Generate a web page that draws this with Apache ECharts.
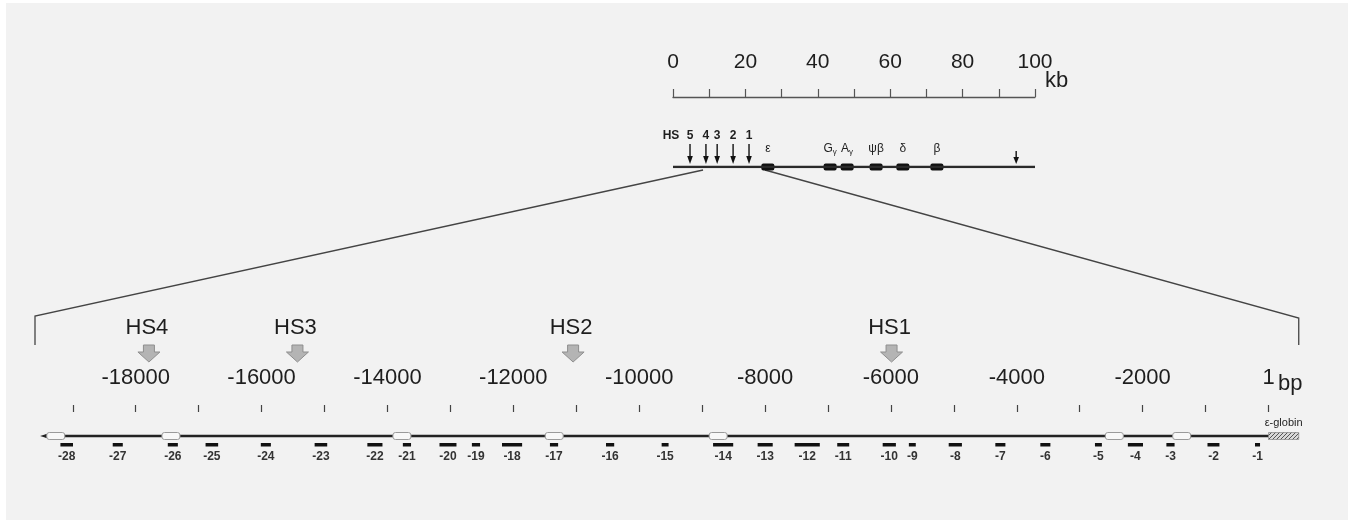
<!DOCTYPE html>
<html>
<head>
<meta charset="utf-8">
<script src="https://cdn.jsdelivr.net/npm/echarts@6/dist/echarts.min.js"></script>
<style>
  html, body { margin: 0; padding: 0; background: #fff; }
  #bg { position: absolute; left: 6px; top: 3px; width: 1342px; height: 517px; background: #f2f2f2; }
  #chart { position: absolute; left: 0; top: 0; width: 1348px; height: 520px; }
</style>
</head>
<body>
<div id="bg"></div>
<div id="chart"></div>
<script>
// whole locus, kb
const kbTicks = [0, 10, 20, 30, 40, 50, 60, 70, 80, 90, 100];
const kbLabels = [0, 20, 40, 60, 80, 100];
const hsNames = ['5', '4', '3', '2', '1'];
const hsKb = [4.7, 9.1, 12.2, 16.6, 21.0];
const hs3Kb = [94.8];
const geneNames = ['ε', 'Gγ', 'Aγ', 'ψβ', 'δ', 'β'];
const geneKb = [26.2, 43.4, 48.1, 56.1, 63.5, 72.9];
const zoomKb = [8.3, 25.4];

// blown-up LCR region, bp
const bpTicks = [-19000, -18000, -17000, -16000, -15000, -14000, -13000, -12000, -11000, -10000,
  -9000, -8000, -7000, -6000, -5000, -4000, -3000, -2000, -1000, 1];
const bpLabels = [-18000, -16000, -14000, -12000, -10000, -8000, -6000, -4000, -2000, 1];
const hsSiteNames = ['HS4', 'HS3', 'HS2', 'HS1'];
const hsSiteBp = [-17790, -15430, -11050, -5990];
const fragNames = ['-28', '-27', '-26', '-25', '-24', '-23', '-22', '-21', '-20', '-19', '-18', '-17', '-16', '-15',
  '-14', '-13', '-12', '-11', '-10', '-9', '-8', '-7', '-6', '-5', '-4', '-3', '-2', '-1'];
const fragBp = [-19096, -18285, -17410, -16790, -15932, -15057, -14199, -13690, -13038, -12593, -12020, -11353, -10462, -9588,
  -8666, -7998, -7330, -6758, -6026, -5660, -4977, -4261, -3546, -2703, -2115, -1558, -875, -175];
const fragLen = [200, 160, 160, 200, 160, 200, 240, 130, 270, 130, 320, 130, 130, 110,
  320, 240, 400, 190, 210, 110, 210, 160, 160, 110, 240, 130, 190, 80];
const openBoxBp = [-19270, -17440, -13770, -11350, -8745, -2450, -1380];
const dnaBp = [-19520, 0];
const epsilonBp = [0, 480];
const zoomBp = [-19600, 480];

const FONT = 'Liberation Sans, Arial, sans-serif';
const INK = '#1e1e1e';

const hatch = document.createElement('canvas');
hatch.width = 4; hatch.height = 4;
const hg = hatch.getContext('2d');
hg.fillStyle = '#d8d8d8'; hg.fillRect(0, 0, 4, 4);
hg.strokeStyle = '#555'; hg.lineWidth = 1;
hg.beginPath(); hg.moveTo(0, 4); hg.lineTo(4, 0); hg.stroke();

const chart = echarts.init(document.getElementById('chart'));

const option = {
  animation: false,
  backgroundColor: 'transparent',
  grid: [
    { left: 673, width: 362, top: 97, height: 70 },
    { left: 35, width: 1265, top: 412, height: 24 }
  ],
  xAxis: [
    {
      gridIndex: 0, type: 'value', min: 0, max: 100, position: 'top',
      axisLine: { onZero: false, lineStyle: { color: '#555', width: 1.3 } },
      axisTick: { customValues: kbTicks, length: 8, lineStyle: { color: '#555', width: 1.2 } },
      axisLabel: { customValues: kbLabels, fontSize: 21, margin: 24, color: INK, fontFamily: FONT },
      splitLine: { show: false },
      name: 'kb', nameLocation: 'end', nameGap: 10, nameMoveOverlap: false,
      nameTextStyle: { fontSize: 22, color: INK, fontFamily: FONT, verticalAlign: 'bottom', padding: [0, 0, 5, 0] }
    },
    {
      gridIndex: 1, type: 'value', min: zoomBp[0], max: 500, position: 'top',
      axisLine: { show: false, onZero: false },
      axisTick: { show: true, customValues: bpTicks, length: 7, lineStyle: { color: '#444', width: 1.2 } },
      axisLabel: { customValues: bpLabels, fontSize: 22, margin: 23, color: INK, fontFamily: FONT,
        formatter: v => String(v) },
      splitLine: { show: false },
      name: 'bp', nameLocation: 'end', nameGap: -22, nameMoveOverlap: false,
      nameTextStyle: { fontSize: 22, color: INK, fontFamily: FONT, verticalAlign: 'bottom', padding: [0, 0, 17, 0] }
    }
  ],
  yAxis: [
    { gridIndex: 0, min: 0, max: 1, show: false },
    { gridIndex: 1, min: 0, max: 1, show: false }
  ],
  series: [
    // locus line
    {
      type: 'line', xAxisIndex: 0, yAxisIndex: 0, data: [[0, 0], [100, 0]],
      symbol: 'none', lineStyle: { color: '#2a2a2a', width: 2.5 }, silent: true
    },
    // genes
    {
      type: 'custom', xAxisIndex: 0, yAxisIndex: 0,
      data: geneKb.map(k => [k, 0]),
      renderItem: (params, api) => {
        const p = api.coord([api.value(0), 0]);
        const name = geneNames[params.dataIndex];
        const txt = name[1] === 'γ' ? `{b|${name[0]}}{s|γ}` : `{b|${name}}`;
        return {
          type: 'group', children: [
            { type: 'rect', shape: { x: p[0] - 6.5, y: p[1] - 3.5, width: 13, height: 7, r: 2 }, style: { fill: '#111' } },
            { type: 'text', x: p[0], y: p[1] - 18, style: {
              text: txt, align: 'center', verticalAlign: 'middle',
              rich: {
                b: { fontSize: 12, fontFamily: FONT, fill: INK },
                s: { fontSize: 8, fontFamily: FONT, fill: INK, verticalAlign: 'bottom', padding: [6, 0, 0, 0] }
              }
            } }
          ]
        };
      }
    },
    // HS arrows on locus
    {
      type: 'custom', xAxisIndex: 0, yAxisIndex: 0,
      data: hsKb.map(k => [k, 0]),
      renderItem: (params, api) => {
        const p = api.coord([api.value(0), 0]);
        const kids = [
          { type: 'line', shape: { x1: p[0], y1: p[1] - 23, x2: p[0], y2: p[1] - 6 }, style: { stroke: '#111', lineWidth: 1.4 } },
          { type: 'polygon', shape: { points: [[p[0] - 2.8, p[1] - 11], [p[0] + 2.8, p[1] - 11], [p[0], p[1] - 3]] }, style: { fill: '#111' } },
          { type: 'text', x: p[0], y: p[1] - 31, style: { text: hsNames[params.dataIndex], fontSize: 12, fontWeight: 'bold', fontFamily: FONT, fill: INK, align: 'center', verticalAlign: 'middle' } }
        ];
        if (params.dataIndex === 0) {
          kids.push({ type: 'text', x: p[0] - 19, y: p[1] - 31, style: { text: 'HS', fontSize: 12, fontWeight: 'bold', fontFamily: FONT, fill: INK, align: 'center', verticalAlign: 'middle' } });
        }
        return { type: 'group', children: kids };
      }
    },
    // 3' HS arrow
    {
      type: 'custom', xAxisIndex: 0, yAxisIndex: 0,
      data: hs3Kb.map(k => [k, 0]),
      renderItem: (params, api) => {
        const p = api.coord([api.value(0), 0]);
        return {
          type: 'group', children: [
            { type: 'line', shape: { x1: p[0], y1: p[1] - 16, x2: p[0], y2: p[1] - 6 }, style: { stroke: '#111', lineWidth: 1.4 } },
            { type: 'polygon', shape: { points: [[p[0] - 2.8, p[1] - 10], [p[0] + 2.8, p[1] - 10], [p[0], p[1] - 3]] }, style: { fill: '#111' } }
          ]
        };
      }
    },
    // DNA line with arrow
    {
      type: 'custom', xAxisIndex: 1, yAxisIndex: 1,
      data: [[dnaBp[0], dnaBp[1]]],
      renderItem: (params, api) => {
        const a = api.coord([api.value(0), 0]);
        const b = api.coord([api.value(1), 0]);
        return {
          type: 'group', children: [
            { type: 'line', shape: { x1: a[0] + 5, y1: a[1], x2: b[0], y2: b[1] }, style: { stroke: '#222', lineWidth: 2.6 } },
            { type: 'polygon', shape: { points: [[a[0], a[1]], [a[0] + 9, a[1] - 2.8], [a[0] + 9, a[1] + 2.8]] }, style: { fill: '#222' } }
          ]
        };
      }
    },
    // epsilon-globin gene
    {
      type: 'custom', xAxisIndex: 1, yAxisIndex: 1,
      data: [[epsilonBp[0], epsilonBp[1]]],
      renderItem: (params, api) => {
        const a = api.coord([api.value(0), 0]);
        const b = api.coord([api.value(1), 0]);
        return {
          type: 'group', children: [
            { type: 'rect', shape: { x: a[0], y: a[1] - 3.5, width: b[0] - a[0], height: 7 }, style: { fill: { image: hatch, repeat: 'repeat' }, stroke: '#777', lineWidth: 0.6 } },
            { type: 'text', x: (a[0] + b[0]) / 2, y: a[1] - 13, style: { text: 'ε-globin', fontSize: 11, fontFamily: FONT, fill: INK, align: 'center', verticalAlign: 'middle' } }
          ]
        };
      }
    },
    // open boxes
    {
      type: 'custom', xAxisIndex: 1, yAxisIndex: 1,
      data: openBoxBp.map(b => [b, 0]),
      renderItem: (params, api) => {
        const p = api.coord([api.value(0), 0]);
        return { type: 'rect', shape: { x: p[0] - 9, y: p[1] - 3.5, width: 18, height: 7, r: 2.5 }, style: { fill: '#f8f8f8', stroke: '#9a9a9a', lineWidth: 1 } };
      }
    },
    // fragments
    {
      type: 'custom', xAxisIndex: 1, yAxisIndex: 1,
      data: fragBp.map((b, i) => [b, fragLen[i]]),
      renderItem: (params, api) => {
        const p = api.coord([api.value(0), 0]);
        const w = api.size([api.value(1), 0])[0];
        return {
          type: 'group', children: [
            { type: 'rect', shape: { x: p[0] - w / 2, y: p[1] + 7, width: w, height: 3.5 }, style: { fill: '#111' } },
            { type: 'text', x: p[0], y: p[1] + 21, style: { text: fragNames[params.dataIndex], fontSize: 12, fontWeight: 'bold', fontFamily: FONT, fill: '#333', align: 'center', verticalAlign: 'middle' } }
          ]
        };
      }
    },
    // HS sites in the LCR
    {
      type: 'custom', xAxisIndex: 1, yAxisIndex: 1,
      data: hsSiteBp.map(b => [b, 0]),
      renderItem: (params, api) => {
        const p = api.coord([api.value(0), 0]);
        const x = p[0], t = p[1] - 91;
        return {
          type: 'group', children: [
            { type: 'text', x: x - 2, y: p[1] - 108, style: { text: hsSiteNames[params.dataIndex], fontSize: 22, fontFamily: FONT, fill: INK, align: 'center', verticalAlign: 'middle' } },
            { type: 'polygon', shape: { points: [[x - 5.5, t], [x + 5.5, t], [x + 5.5, t + 7], [x + 11, t + 7], [x, t + 17], [x - 11, t + 7], [x - 5.5, t + 7]] },
              style: { fill: '#b4b4b4', stroke: '#8e8e8e', lineWidth: 1, lineJoin: 'round' } }
          ]
        };
      }
    }
  ]
};

chart.setOption(option);

// connector lines from the locus to the blown-up region
const l0 = chart.convertToPixel({ xAxisIndex: 0, yAxisIndex: 0 }, [zoomKb[0], 0]);
const r0 = chart.convertToPixel({ xAxisIndex: 0, yAxisIndex: 0 }, [zoomKb[1], 0]);
const l1 = chart.convertToPixel({ xAxisIndex: 1, yAxisIndex: 1 }, [zoomBp[0], 0]);
const r1 = chart.convertToPixel({ xAxisIndex: 1, yAxisIndex: 1 }, [zoomBp[1], 0]);
chart.setOption({
  graphic: [
    { type: 'polyline', shape: { points: [[l0[0], l0[1] + 3], [l1[0], l1[1] - 120], [l1[0], l1[1] - 91]] }, style: { stroke: '#444', lineWidth: 1.3, fill: null } },
    { type: 'polyline', shape: { points: [[r0[0], r0[1] + 3], [r1[0], r1[1] - 118], [r1[0], r1[1] - 91]] }, style: { stroke: '#444', lineWidth: 1.3, fill: null } }
  ]
});
window.addEventListener('resize', () => chart.resize());
</script>
</body>
</html>
